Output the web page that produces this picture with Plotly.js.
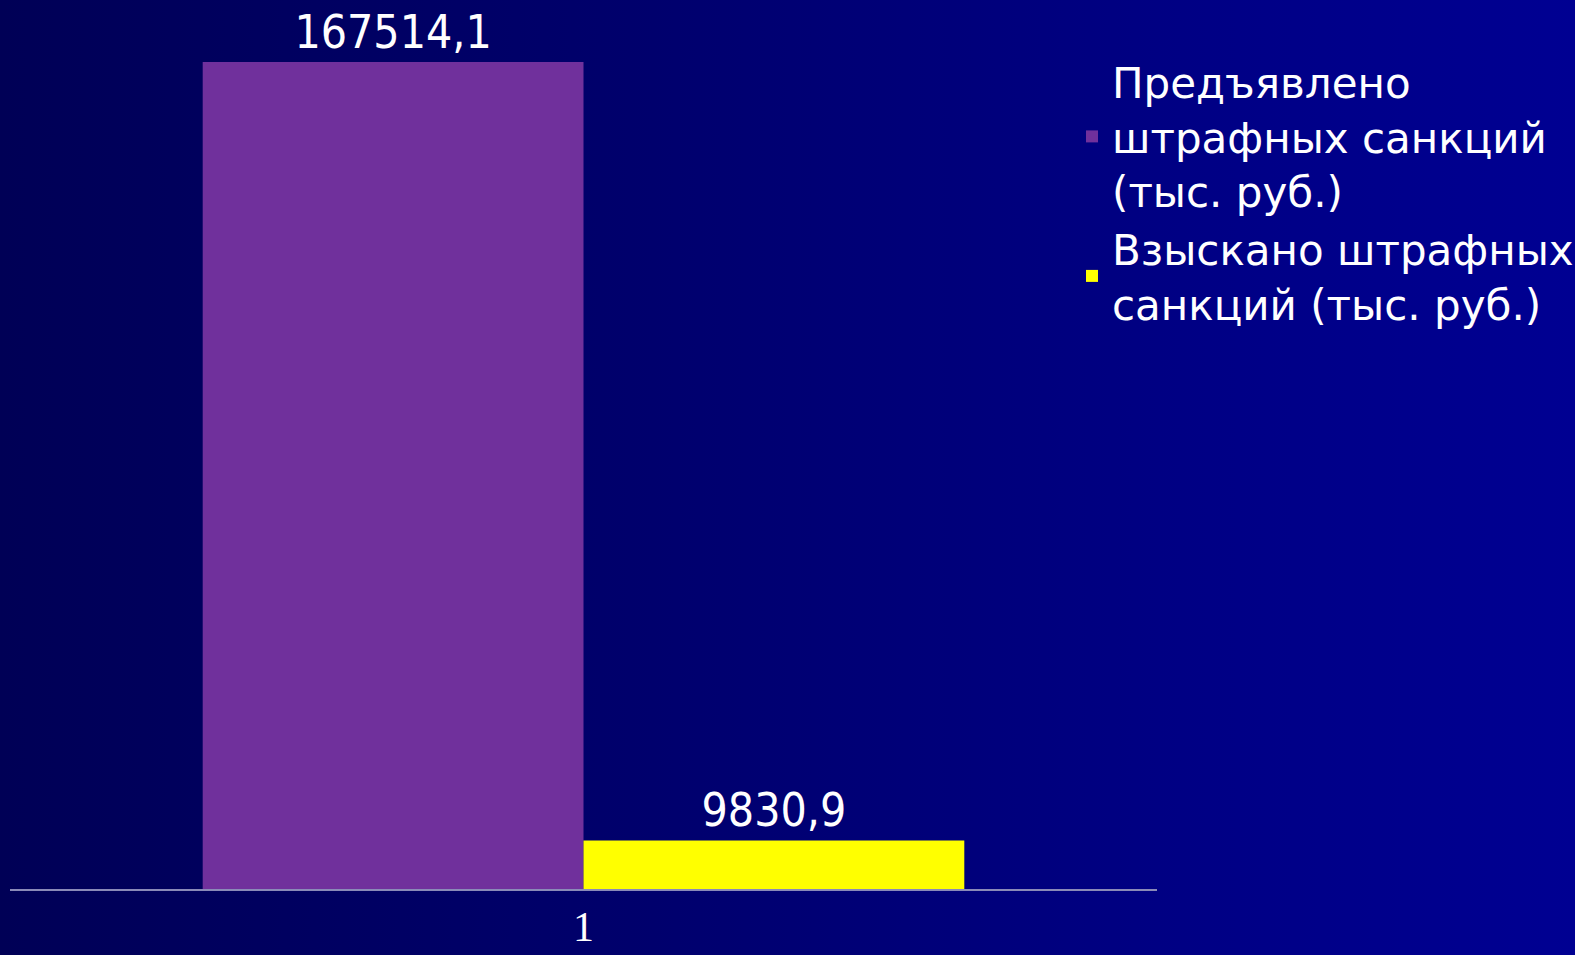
<!DOCTYPE html>
<html>
<head>
<meta charset="utf-8">
<script src="https://cdn.plot.ly/plotly-3.0.1.min.js"></script>
<style>
html,body{margin:0;padding:0;width:1575px;height:955px;overflow:hidden;
background:linear-gradient(to right,#000056 0%,#00006c 40%,#000084 75%,#000092 100%);}
#chart{width:1575px;height:955px;}
</style>
</head>
<body>
<div id="chart"></div>
<script>
const categories = ["1"];
const seriesNames = ["Предъявлено<br>штрафных санкций<br>(тыс. руб.)", "Взыскано штрафных<br>санкций (тыс. руб.)"];
const presented = [167514.1];
const collected = [9830.9];
const colors = ["#70309c", "#ffff00"];

function fmt(v){ return String(v).replace('.', ','); }

const labelFont = {family: "DejaVu Sans Condensed, DejaVu Sans", size: 46, color: "#ffffff"};

const traces = [
  {type:"bar", x:categories, y:presented, name:seriesNames[0],
   marker:{color:colors[0]}, text:presented.map(fmt), textposition:"outside",
   textfont:labelFont, cliponaxis:false, hoverinfo:"none"},
  {type:"bar", x:categories, y:collected, name:seriesNames[1],
   marker:{color:colors[1]}, text:collected.map(fmt), textposition:"outside",
   textfont:labelFont, cliponaxis:false, hoverinfo:"none"}
];

const layout = {
  width:1575, height:955,
  paper_bgcolor:"rgba(0,0,0,0)", plot_bgcolor:"rgba(0,0,0,0)",
  margin:{l:10, r:418, t:62, b:66, autoexpand:false},
  barmode:"group", bargap:0.336, bargroupgap:0,
  showlegend:true,
  legend:{x:1072/1575, xanchor:"left", y:1-48/955, yanchor:"top", xref:"container", yref:"container",
    font:{family:"DejaVu Sans", size:42, color:"#ffffff"},
    bgcolor:"rgba(0,0,0,0)", itemwidth:30, tracegroupgap:2, valign:"middle"},
  xaxis:{type:"category", showline:true, linecolor:"#8a8ab8", linewidth:2,
    tickfont:{family:"Liberation Serif", size:42, color:"#ffffff"},
    ticks:"", ticklen:0, showgrid:false, zeroline:false},
  yaxis:{range:[0, 167514.1], visible:false, showgrid:false, zeroline:false}
};

Plotly.newPlot("chart", traces, layout, {displayModeBar:false, staticPlot:true});
</script>
</body>
</html>
